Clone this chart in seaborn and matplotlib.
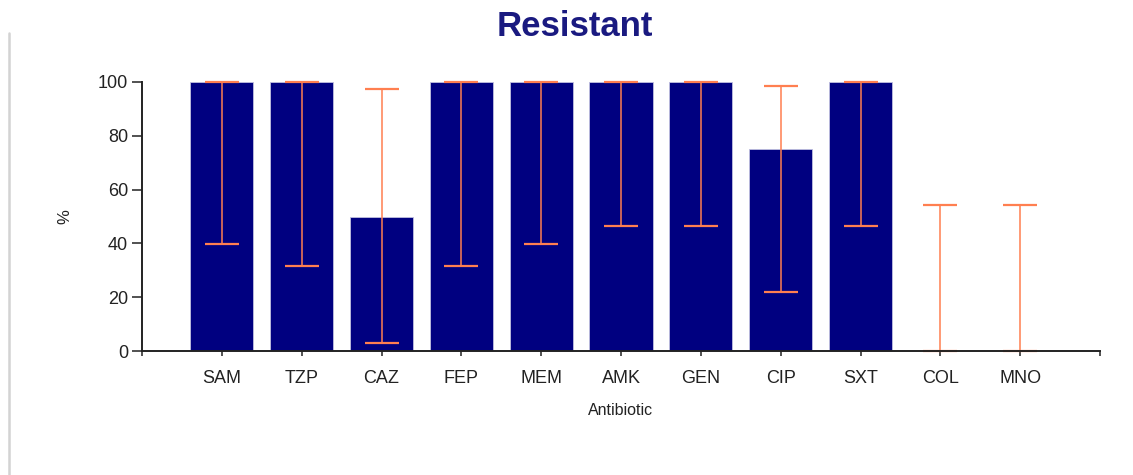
import matplotlib
matplotlib.use("Agg")
import matplotlib.pyplot as plt
from matplotlib.lines import Line2D
import seaborn as sns
import pandas as pd

antibiotics = ["SAM", "TZP", "CAZ", "FEP", "MEM", "AMK", "GEN", "CIP", "SXT", "COL", "MNO"]
resistant_pct = [100, 100, 50, 100, 100, 100, 100, 75, 100, 0, 0]
ci_lower = [39.7, 31.5, 3.1, 31.5, 39.7, 46.5, 46.5, 22.0, 46.5, 0, 0]
ci_upper = [100, 100, 97.4, 100, 100, 100, 100, 98.6, 100, 54.1, 54.1]

df = pd.DataFrame({"Antibiotic": antibiotics, "pct": resistant_pct})

sns.set_theme(style="white")
plt.rcParams["font.family"] = ["Liberation Sans", "DejaVu Sans"]

fig = plt.figure(figsize=(11.33, 4.75), dpi=100)
ax = fig.add_axes([142 / 1133, 124 / 475, (1100 - 142) / 1133, (351 - 82) / 475])

sns.barplot(data=df, x="Antibiotic", y="pct", color="#000080", saturation=1,
            width=0.79, edgecolor="#c0c0e0", linewidth=0.6, ax=ax, errorbar=None)

xs = list(range(len(antibiotics)))
yerr = [[v - lo for v, lo in zip(resistant_pct, ci_lower)],
        [hi - v for v, hi in zip(resistant_pct, ci_upper)]]
ax.errorbar(xs, resistant_pct, yerr=yerr, fmt="none", ecolor="#FF7F50",
            elinewidth=1.1, capsize=12, capthick=1.6, clip_on=False, zorder=3)

ax.set_xlim(-1, 11)
ax.set_ylim(0, 100)
ax.set_xticks(list(range(-1, 12)))
ax.set_xticklabels([""] + antibiotics + [""])
ax.set_yticks([0, 20, 40, 60, 80, 100])
ax.tick_params(axis="x", direction="out", length=3.5, width=1.1, color="#222222",
               labelsize=13, labelcolor="#222222", pad=10, bottom=True)
ax.tick_params(axis="y", direction="out", length=7, width=1.1, color="#222222",
               labelsize=13, labelcolor="#222222", pad=3, left=True)

for s in ["top", "right"]:
    ax.spines[s].set_visible(False)
for s in ["left", "bottom"]:
    ax.spines[s].set_color("#222222")
    ax.spines[s].set_linewidth(1.4)
    ax.spines[s].set_zorder(4)

ax.set_xlabel("Antibiotic", fontsize=11.5, color="#222222", labelpad=12)
ax.set_ylabel("%", fontsize=12, color="#222222", labelpad=18)

fig.suptitle("Resistant", x=575 / 1133, y=1 - 27 / 475, va="center",
             fontsize=25, fontweight="bold", color="#1a1a80")

fig.add_artist(Line2D([9 / 1133, 9 / 1133], [0, 1 - 33 / 475],
                      transform=fig.transFigure, color="#d3d3d3", linewidth=1.8))

fig.savefig("out.png", dpi=100, facecolor="white")
